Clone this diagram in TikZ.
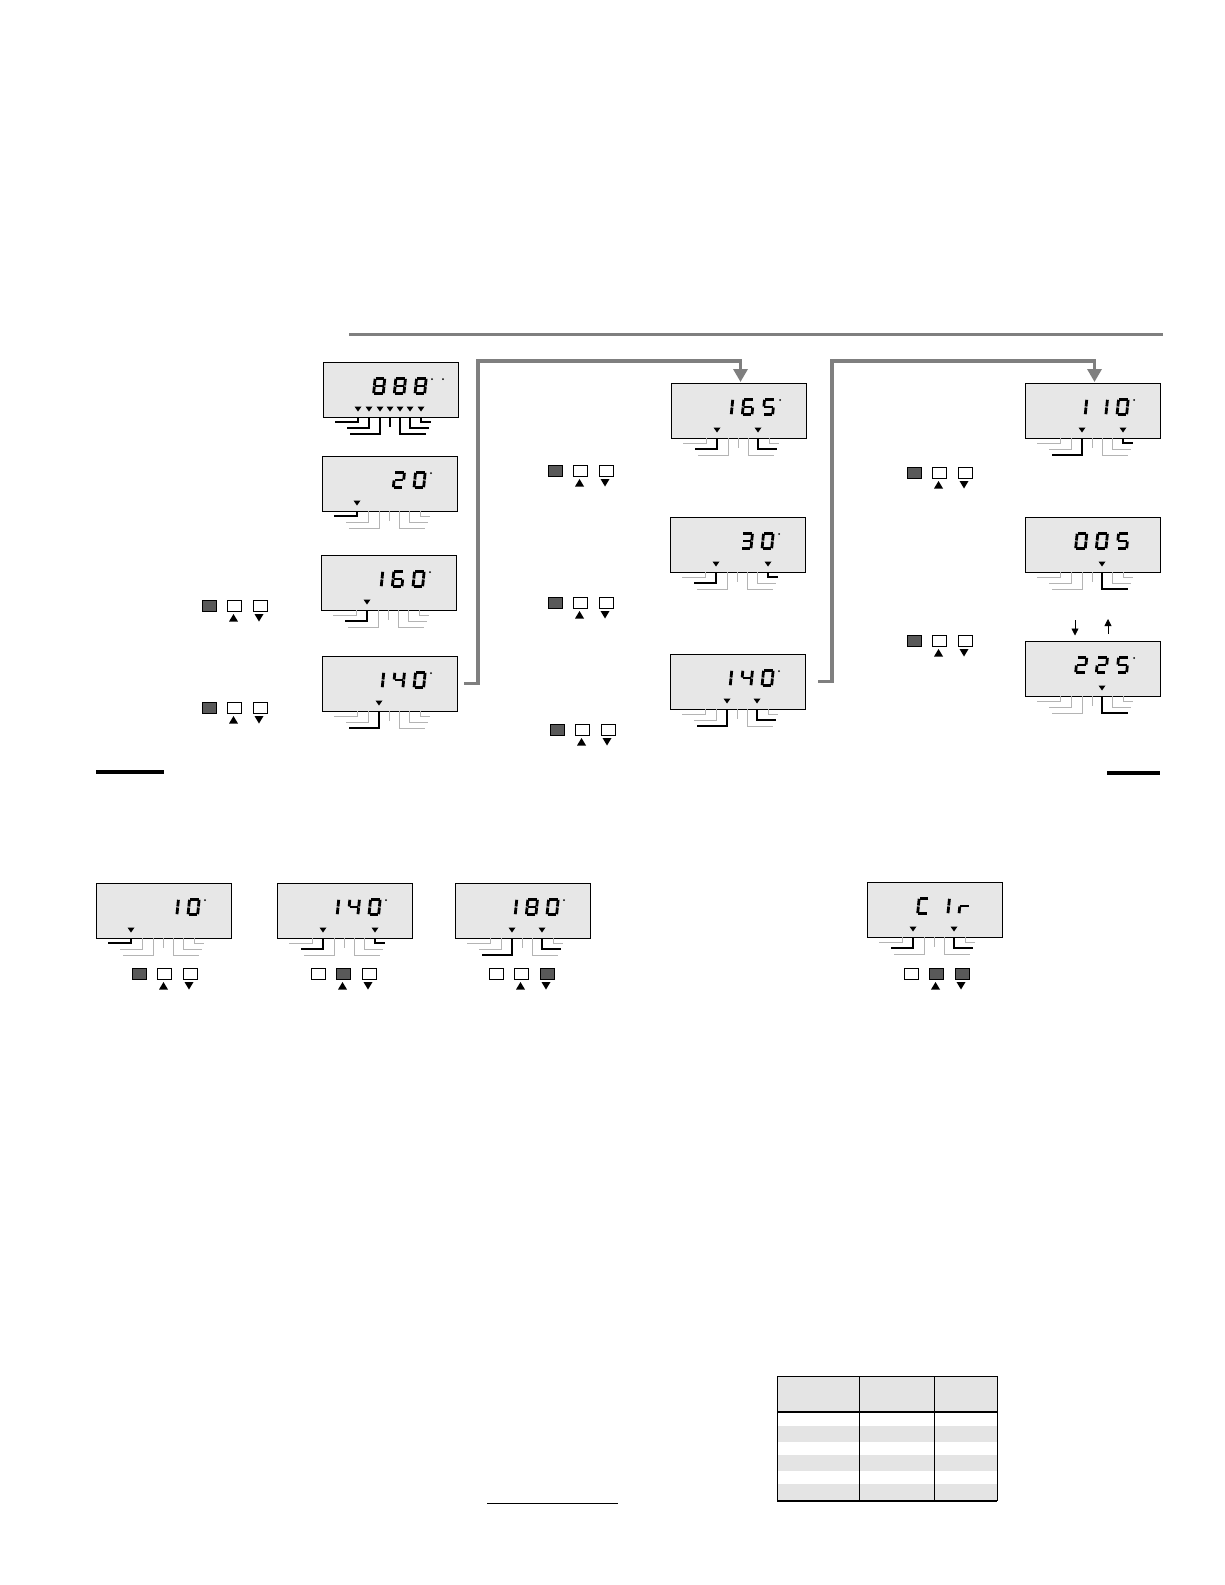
\documentclass[tikz,border=0pt]{standalone}
\usetikzlibrary{calc,arrows.meta}
\definecolor{lcdc}{HTML}{E7E7E7}
\definecolor{leadc}{HTML}{B4B4B4}
\definecolor{flowc}{HTML}{7F7F7F}
\definecolor{darkc}{HTML}{595959}
\definecolor{rowc}{HTML}{E4E4E4}
\tikzset{
  lcd/.style={draw,fill=lcdc,line width=.9pt,minimum width=135pt,minimum height=55pt,inner sep=0pt,outer sep=0pt,anchor=north west},
  seg/.style={line width=2.8pt,shorten <=.5pt,shorten >=.5pt},
  btnoff/.style={draw,fill=white,line width=.8pt,minimum width=14pt,minimum height=11pt,inner sep=0pt,anchor=north west},
  btnon/.style={btnoff,fill=darkc},
  flow/.style={draw=flowc,line width=3.4pt},
  bar/.style={line width=3.6pt}
}
\expandafter\def\csname dg-\endcsname{}
\expandafter\def\csname dg0\endcsname{TL/TR,TR/MR,MR/BR,BR/BL,BL/ML,ML/TL}
\expandafter\def\csname dg1\endcsname{TR/MR,MR/BR}
\expandafter\def\csname dg2\endcsname{TL/TR,TR/MR,MR/ML,ML/BL,BL/BR}
\expandafter\def\csname dg3\endcsname{TL/TR,TR/MR,MR/ML,MR/BR,BR/BL}
\expandafter\def\csname dg4\endcsname{TL/ML,ML/MR,TR/MR,MR/BR}
\expandafter\def\csname dg5\endcsname{TR/TL,TL/ML,ML/MR,MR/BR,BR/BL}
\expandafter\def\csname dg6\endcsname{TR/TL,TL/ML,ML/BL,BL/BR,BR/MR,MR/ML}
\expandafter\def\csname dg8\endcsname{TL/TR,TR/MR,MR/BR,BR/BL,BL/ML,ML/TL,ML/MR}
\expandafter\def\csname dgC\endcsname{TR/TL,TL/ML,ML/BL,BL/BR}
\expandafter\def\csname dgr\endcsname{ML/MR,ML/BL}
\newcommand{\lead}[3]{
  \pgfmathsetmacro\vx{{0,35,46,57,67,77,87,98}[#3]}
  \pgfmathsetmacro\dy{{0,5,11,17,10,17,11,5}[#3]}
  \pgfmathsetmacro\hx{{0,12,24,27,67,103,106,108}[#3]}
  \draw[#1,line width=#2] (\vx,55)--(\vx,55+\dy)--(\hx,55+\dy);
}
\newcommand{\lcdpanel}[6]{%
  \node[lcd] (#1) at (#2,#3) {};
  \begin{scope}[shift={(#2,#3)}]
    \foreach \d [count=\k] in {#4}{
      \begin{scope}[shift={(35.5+20.7*\k,24)},xslant=.1]
        \coordinate (TL) at (-4.8,-7.7); \coordinate (TR) at (4.8,-7.7);
        \coordinate (ML) at (-4.8,0); \coordinate (MR) at (4.8,0);
        \coordinate (BL) at (-4.8,7.7); \coordinate (BR) at (4.8,7.7);
        \edef\seglist{\csname dg\d\endcsname}
        \foreach \a/\b in \seglist{\draw[seg] (\a)--(\b);}
      \end{scope}
    }
    \foreach \n in {1,...,7}{\lead{leadc}{1pt}{\n}}
    \foreach \n in {#5}{
      \lead{black}{1.3pt}{\n}
      \pgfmathsetmacro\vx{{0,35,46,57,67,77,87,98}[\n]}
      \fill (\vx-3.5,44.5)--(\vx+3.5,44.5)--(\vx,49.5)--cycle;
    }
    \foreach \px in {#6}{\fill (\px,17) circle (1);}
  \end{scope}
}
\newcommand{\btnrow}[5]{%
  \node[#3] (#1a) at (#2) {};
  \node[#4] (#1b) at ($(#2)+(25,0)$) {};
  \node[#5] (#1c) at ($(#2)+(50.5,0)$) {};
  \fill ($(#2)+(27,21.5)$)--($(#2)+(36,21.5)$)--($(#2)+(31.5,14)$)--cycle;
  \fill ($(#2)+(52.5,14)$)--($(#2)+(61.5,14)$)--($(#2)+(57,21.5)$)--cycle;
}
\begin{document}
\begin{tikzpicture}[x=1pt,y=-1pt]
\useasboundingbox (0,0) rectangle (1225,1585);
\draw[flowc,line width=3pt] (349,334)--(1163,334);
\lcdpanel{pa}{323}{362}{8,8,8}{1,2,3,4,5,6,7}{109,120}
\lcdpanel{pb}{322}{456}{-,2,0}{1}{109}
\lcdpanel{pc}{321}{555}{1,6,0}{2}{109}
\lcdpanel{pd}{322}{656}{1,4,0}{3}{109}
\lcdpanel{pe}{671}{383}{1,6,5}{2,6}{109}
\lcdpanel{pf}{670}{517}{-,3,0}{2,7}{109}
\lcdpanel{pg}{670}{654}{1,4,0}{3,6}{109}
\lcdpanel{ph}{1025}{383}{1,1,0}{3,7}{109}
\lcdpanel{pi}{1025}{517}{0,0,5}{5}{}
\lcdpanel{pj}{1025}{641}{2,2,5}{5}{109}
\lcdpanel{pk}{96}{883}{-,1,0}{1}{109}
\lcdpanel{pl}{277}{883}{1,4,0}{2,7}{109}
\lcdpanel{pm}{455}{883}{1,8,0}{3,6}{109}
\lcdpanel{pn}{867}{882}{C,1,r}{2,6}{}
\btnrow{ba}{202,600}{btnon}{btnoff}{btnoff}
\btnrow{bb}{202,702}{btnon}{btnoff}{btnoff}
\btnrow{bc}{548,465}{btnon}{btnoff}{btnoff}
\btnrow{bd}{548,597}{btnon}{btnoff}{btnoff}
\btnrow{be}{550,724}{btnon}{btnoff}{btnoff}
\btnrow{bf}{907,467}{btnon}{btnoff}{btnoff}
\btnrow{bg}{907,635}{btnon}{btnoff}{btnoff}
\btnrow{bh}{132,968}{btnon}{btnoff}{btnoff}
\btnrow{bi}{311,968}{btnoff}{btnon}{btnoff}
\btnrow{bj}{489,968}{btnoff}{btnoff}{btnon}
\btnrow{bk}{904,968}{btnoff}{btnon}{btnon}
\coordinate (fa) at ($(pd.east)+(7,0)$);
\coordinate (fb) at ($(pg.east)+(13,0)$);
\draw[flow,-{Triangle[length=13pt,width=14pt]}] (fa)-|(478,361)-|($(pe.north)+(2,-1)$);
\draw[flow,-{Triangle[length=13pt,width=14pt]}] (fb)-|(832,361)-|($(ph.north)+(2,-1)$);
\draw[bar] (96,772)--(164,772);
\draw[bar] (1107,773)--(1160,773);
\draw[-{Triangle[length=7pt,width=7pt]},line width=.8pt] (1075,620)--(1075,635.5);
\draw[-{Triangle[length=7pt,width=7pt]},line width=.8pt] (1108,634)--(1108,619);
\fill[rowc] (777,1376) rectangle (997,1412);
\foreach \y in {1426,1455,1484}{\fill[rowc] (777,\y) rectangle (997,\y+16);}
\draw[line width=1pt] (777,1501)--(777,1376)--(997,1376)--(997,1501);
\foreach \x in {859,934}{\draw[line width=1pt] (\x,1376)--(\x,1501);}
\draw[line width=2pt] (777,1412)--(997,1412);
\draw[line width=2pt] (777,1501)--(997,1501);
\draw[line width=.8pt] (487,1503)--(618,1503);
\end{tikzpicture}
\end{document}
